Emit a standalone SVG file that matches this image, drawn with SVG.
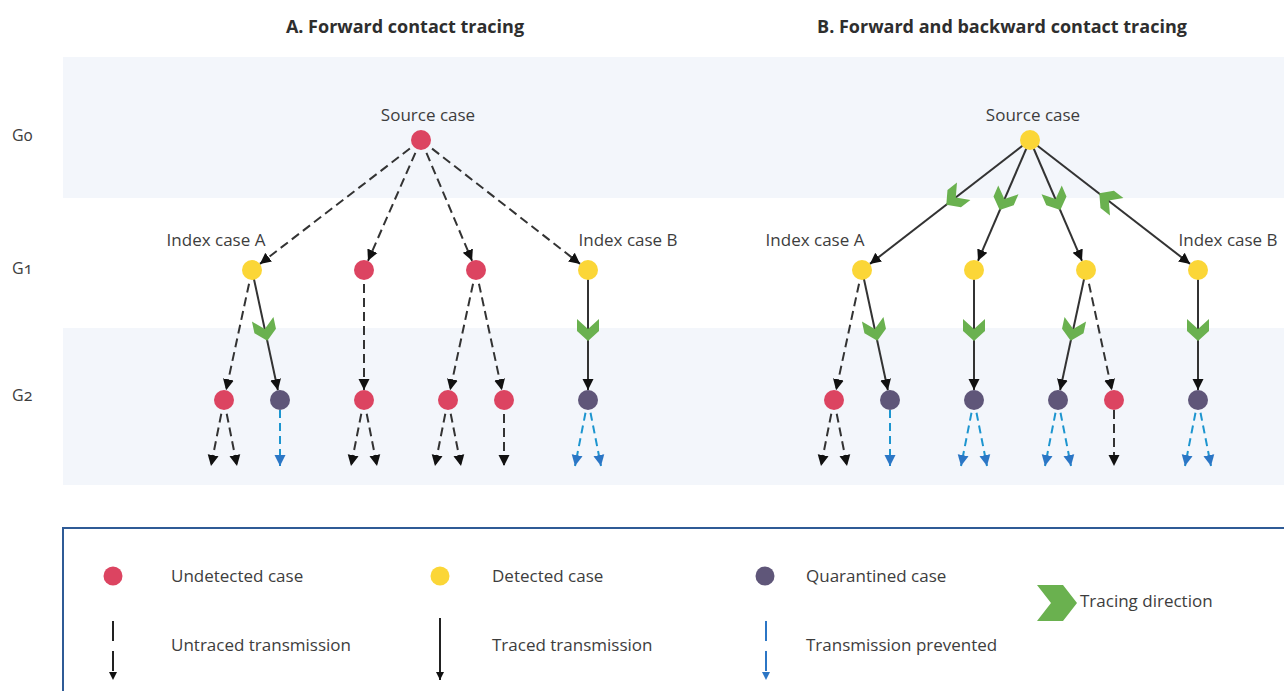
<svg xmlns="http://www.w3.org/2000/svg" xmlns:xlink="http://www.w3.org/1999/xlink" width="1284" height="691" viewBox="0 0 1284 691">
  <style>
    text { font-family: "Open Sans", "Noto Sans", "Liberation Sans", sans-serif; fill: #3d3d3d; }
    .title { font-size: 18px; font-weight: bold; text-anchor: middle; fill: #2e2e2e; }
    .lbl { font-size: 17px; text-anchor: middle; }
    .gen { font-size: 16px; font-variant-numeric: oldstyle-nums; }
    .leg { font-size: 17px; }
    .band { fill: #f3f6fb; }
    .und { fill: #dc4461; }
    .det { fill: #fbd637; }
    .qua { fill: #5f5679; }
    .chev { fill: #6ab14f; }
    .tr { stroke: #333333; stroke-width: 2; fill: none; }
    .ut { stroke: #333333; stroke-width: 2; fill: none; stroke-dasharray: 9 5; }
    .pv { stroke: #1d95cf; stroke-width: 2; fill: none; stroke-dasharray: 8 5; }
  </style>
  <defs>
    <marker id="ah" markerUnits="userSpaceOnUse" viewBox="-11 -6 12 12" markerWidth="12" markerHeight="12" refX="0" refY="0" orient="auto">
      <path d="M-11,-5.5 L0,0 L-11,5.5 z" fill="#111111"/>
    </marker>
    <marker id="ahb" markerUnits="userSpaceOnUse" viewBox="-11 -6 12 12" markerWidth="12" markerHeight="12" refX="0" refY="0" orient="auto">
      <path d="M-11,-5.5 L0,0 L-11,5.5 z" fill="#2b76c5"/>
    </marker>
    <marker id="ahs" markerUnits="userSpaceOnUse" viewBox="-8 -4.5 9 9" markerWidth="9" markerHeight="9" refX="0" refY="0" orient="auto">
      <path d="M-8,-4 L0,0 L-8,4 z" fill="#111111"/>
    </marker>
    <marker id="ahsb" markerUnits="userSpaceOnUse" viewBox="-8 -4.5 9 9" markerWidth="9" markerHeight="9" refX="0" refY="0" orient="auto">
      <path d="M-8,-4 L0,0 L-8,4 z" fill="#2b76c5"/>
    </marker>
    <!-- chevron pointing along +x, notch near the origin -->
    <polygon id="chev" class="chev" points="-11,-11 1,-11 11,0 1,11 -11,11 -1,0"/>
  </defs>

  <!-- generation bands -->
  <rect class="band" x="63" y="57" width="1221" height="141"/>
  <rect class="band" x="63" y="328" width="1221" height="157"/>

  <!-- titles -->
  <text class="title" x="405" y="33">A. Forward contact tracing</text>
  <text class="title" x="1002" y="33">B. Forward and backward contact tracing</text>

  <!-- generation labels -->
  <text class="gen" x="12" y="141">G0</text>
  <text class="gen" x="12" y="274">G1</text>
  <text class="gen" x="12" y="401">G2</text>

  <!-- connectors -->
  <g id="connectors">
    <!-- panel A: G0 to G1 -->
    <line class="ut" x1="421" y1="140" x2="259.9" y2="263.9" marker-end="url(#ah)"/>
    <line class="ut" x1="421" y1="140" x2="368.0" y2="260.8" marker-end="url(#ah)"/>
    <line class="ut" x1="421" y1="140" x2="472.1" y2="260.8" marker-end="url(#ah)"/>
    <line class="ut" x1="421" y1="140" x2="580.1" y2="263.9" marker-end="url(#ah)"/>
    <!-- panel A: G1 to G2 -->
    <line class="ut" x1="252" y1="270" x2="226.1" y2="390.2" marker-end="url(#ah)"/>
    <line class="tr" x1="252" y1="270" x2="277.9" y2="390.2" marker-end="url(#ah)"/>
    <line class="ut" x1="364" y1="270" x2="364" y2="390" marker-end="url(#ah)"/>
    <line class="ut" x1="476" y1="270" x2="450.1" y2="390.2" marker-end="url(#ah)"/>
    <line class="ut" x1="476" y1="270" x2="501.9" y2="390.2" marker-end="url(#ah)"/>
    <line class="tr" x1="588" y1="270" x2="588" y2="390" marker-end="url(#ah)"/>
    <!-- panel A: onward from G2 -->
    <line class="ut" x1="224" y1="400" x2="211" y2="466" marker-end="url(#ah)"/>
    <line class="ut" x1="224" y1="400" x2="237" y2="466" marker-end="url(#ah)"/>
    <line class="pv" x1="280" y1="410" x2="280" y2="466" marker-end="url(#ahb)"/>
    <line class="ut" x1="364" y1="400" x2="351" y2="466" marker-end="url(#ah)"/>
    <line class="ut" x1="364" y1="400" x2="377" y2="466" marker-end="url(#ah)"/>
    <line class="ut" x1="448" y1="400" x2="435" y2="466" marker-end="url(#ah)"/>
    <line class="ut" x1="448" y1="400" x2="461" y2="466" marker-end="url(#ah)"/>
    <line class="ut" x1="504" y1="400" x2="504" y2="466" marker-end="url(#ah)"/>
    <line class="pv" x1="588" y1="400" x2="575" y2="466" marker-end="url(#ahb)"/>
    <line class="pv" x1="588" y1="400" x2="601" y2="466" marker-end="url(#ahb)"/>

    <!-- panel B: G0 to G1 -->
    <line class="tr" x1="1030" y1="140" x2="869.9" y2="263.9" marker-end="url(#ah)"/>
    <line class="tr" x1="1030" y1="140" x2="978.0" y2="260.8" marker-end="url(#ah)"/>
    <line class="tr" x1="1030" y1="140" x2="1082.0" y2="260.8" marker-end="url(#ah)"/>
    <line class="tr" x1="1030" y1="140" x2="1190.1" y2="263.9" marker-end="url(#ah)"/>
    <!-- panel B: G1 to G2 -->
    <line class="ut" x1="862" y1="270" x2="836.1" y2="390.2" marker-end="url(#ah)"/>
    <line class="tr" x1="862" y1="270" x2="887.9" y2="390.2" marker-end="url(#ah)"/>
    <line class="tr" x1="974" y1="270" x2="974" y2="390" marker-end="url(#ah)"/>
    <line class="tr" x1="1086" y1="270" x2="1060.1" y2="390.2" marker-end="url(#ah)"/>
    <line class="ut" x1="1086" y1="270" x2="1111.9" y2="390.2" marker-end="url(#ah)"/>
    <line class="tr" x1="1198" y1="270" x2="1198" y2="390" marker-end="url(#ah)"/>
    <!-- panel B: onward from G2 -->
    <line class="ut" x1="834" y1="400" x2="821" y2="466" marker-end="url(#ah)"/>
    <line class="ut" x1="834" y1="400" x2="847" y2="466" marker-end="url(#ah)"/>
    <line class="pv" x1="890" y1="410" x2="890" y2="466" marker-end="url(#ahb)"/>
    <line class="pv" x1="974" y1="400" x2="961" y2="466" marker-end="url(#ahb)"/>
    <line class="pv" x1="974" y1="400" x2="987" y2="466" marker-end="url(#ahb)"/>
    <line class="pv" x1="1058" y1="400" x2="1045" y2="466" marker-end="url(#ahb)"/>
    <line class="pv" x1="1058" y1="400" x2="1071" y2="466" marker-end="url(#ahb)"/>
    <line class="ut" x1="1114" y1="410" x2="1114" y2="466" marker-end="url(#ah)"/>
    <line class="pv" x1="1198" y1="400" x2="1185" y2="466" marker-end="url(#ahb)"/>
    <line class="pv" x1="1198" y1="400" x2="1211" y2="466" marker-end="url(#ahb)"/>
  </g>

  <!-- tracing direction chevrons -->
  <g id="tracing">
    <use xlink:href="#chev" transform="translate(265,330) rotate(77.85)"/>
    <use xlink:href="#chev" transform="translate(588,330) rotate(90)"/>
    <use xlink:href="#chev" transform="translate(955,198) rotate(142.3)"/>
    <use xlink:href="#chev" transform="translate(1004,200) rotate(113.3)"/>
    <use xlink:href="#chev" transform="translate(1056,200) rotate(66.7)"/>
    <use xlink:href="#chev" transform="translate(1108,200) rotate(-142.3)"/>
    <use xlink:href="#chev" transform="translate(875,330) rotate(77.85)"/>
    <use xlink:href="#chev" transform="translate(974,330) rotate(90)"/>
    <use xlink:href="#chev" transform="translate(1073,330) rotate(102.15)"/>
    <use xlink:href="#chev" transform="translate(1198,330) rotate(90)"/>
  </g>

  <!-- panel A nodes -->
  <g id="a-source"><circle class="und" cx="421" cy="140" r="10"/><text class="lbl" x="428" y="121">Source case</text></g>
  <g id="a-index-a"><circle class="det" cx="252" cy="270" r="10"/><text class="lbl" x="216" y="246">Index case A</text></g>
  <g id="a-g1-2"><circle class="und" cx="364" cy="270" r="10"/></g>
  <g id="a-g1-3"><circle class="und" cx="476" cy="270" r="10"/></g>
  <g id="a-index-b"><circle class="det" cx="588" cy="270" r="10"/><text class="lbl" x="628" y="246">Index case B</text></g>
  <g id="a-g2-1"><circle class="und" cx="224" cy="400" r="10"/></g>
  <g id="a-g2-2"><circle class="qua" cx="280" cy="400" r="10"/></g>
  <g id="a-g2-3"><circle class="und" cx="364" cy="400" r="10"/></g>
  <g id="a-g2-4"><circle class="und" cx="448" cy="400" r="10"/></g>
  <g id="a-g2-5"><circle class="und" cx="504" cy="400" r="10"/></g>
  <g id="a-g2-6"><circle class="qua" cx="588" cy="400" r="10"/></g>

  <!-- panel B nodes -->
  <g id="b-source"><circle class="det" cx="1030" cy="140" r="10"/><text class="lbl" x="1033" y="121">Source case</text></g>
  <g id="b-index-a"><circle class="det" cx="862" cy="270" r="10"/><text class="lbl" x="815" y="246">Index case A</text></g>
  <g id="b-g1-2"><circle class="det" cx="974" cy="270" r="10"/></g>
  <g id="b-g1-3"><circle class="det" cx="1086" cy="270" r="10"/></g>
  <g id="b-index-b"><circle class="det" cx="1198" cy="270" r="10"/><text class="lbl" x="1228" y="246">Index case B</text></g>
  <g id="b-g2-1"><circle class="und" cx="834" cy="400" r="10"/></g>
  <g id="b-g2-2"><circle class="qua" cx="890" cy="400" r="10"/></g>
  <g id="b-g2-3"><circle class="qua" cx="974" cy="400" r="10"/></g>
  <g id="b-g2-4"><circle class="qua" cx="1058" cy="400" r="10"/></g>
  <g id="b-g2-5"><circle class="und" cx="1114" cy="400" r="10"/></g>
  <g id="b-g2-6"><circle class="qua" cx="1198" cy="400" r="10"/></g>

  <!-- legend -->
  <g id="legend">
    <rect x="63" y="528" width="1240" height="200" fill="none" stroke="#2f5b96" stroke-width="2"/>
    <circle class="und" cx="113" cy="576" r="9.5"/>
    <text class="leg" x="171" y="582">Undetected case</text>
    <circle class="det" cx="440" cy="576" r="9.5"/>
    <text class="leg" x="492" y="582">Detected case</text>
    <circle class="qua" cx="765" cy="576" r="9.5"/>
    <text class="leg" x="806" y="582">Quarantined case</text>
    <polygon class="chev" points="1037,585 1063,585 1077,603 1063,621 1037,621 1051,603"/>
    <text class="leg" x="1080" y="607">Tracing direction</text>
    <line x1="113" y1="621" x2="113" y2="680" stroke="#222222" stroke-width="2" stroke-dasharray="20 10" marker-end="url(#ahs)"/>
    <text class="leg" x="171" y="651">Untraced transmission</text>
    <line x1="440" y1="618" x2="440" y2="680" stroke="#222222" stroke-width="2" marker-end="url(#ahs)"/>
    <text class="leg" x="492" y="651">Traced transmission</text>
    <line x1="766" y1="621" x2="766" y2="680" stroke="#2b76c5" stroke-width="2" stroke-dasharray="20 10" marker-end="url(#ahsb)"/>
    <text class="leg" x="806" y="651">Transmission prevented</text>
  </g>
</svg>
